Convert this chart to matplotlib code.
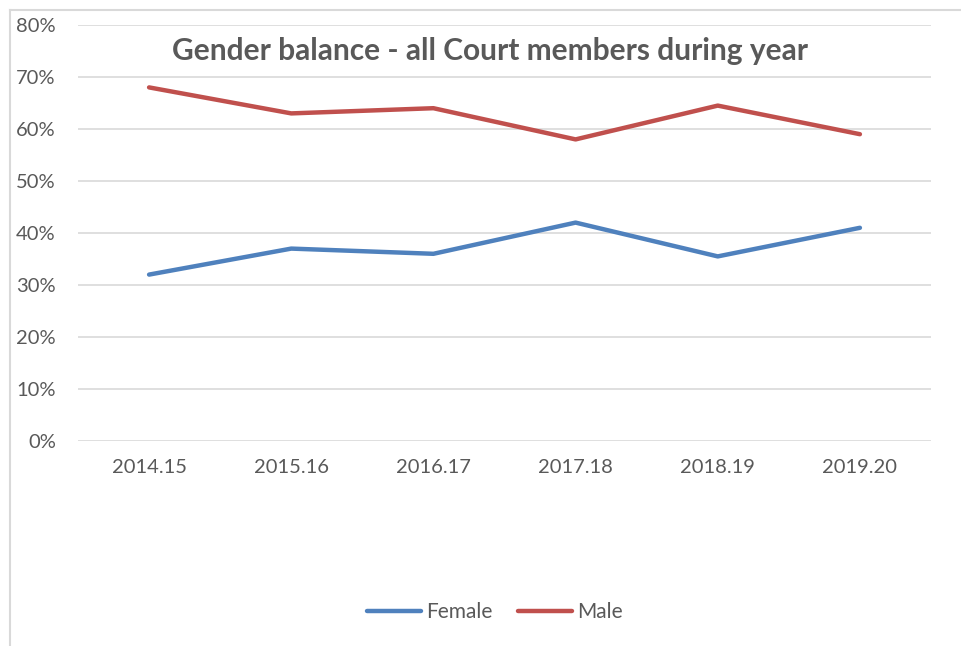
import matplotlib
matplotlib.use("Agg")
import matplotlib.pyplot as plt
from matplotlib.lines import Line2D
from matplotlib.ticker import FuncFormatter

years = ["2014.15", "2015.16", "2016.17", "2017.18", "2018.19", "2019.20"]
female = [0.32, 0.37, 0.36, 0.42, 0.355, 0.41]
male = [0.68, 0.63, 0.64, 0.58, 0.645, 0.59]
yticks = [0, 0.1, 0.2, 0.3, 0.4, 0.5, 0.6, 0.7, 0.8]

W, H = 962, 646
plt.rcParams['font.family'] = ['Lato', 'DejaVu Sans']
fig = plt.figure(figsize=(W/100, H/100), dpi=100)
ax = fig.add_axes([78/W, 1-441/H, (931-78)/W, (441-25)/H])

gray = "#595959"
x = list(range(len(years)))
ax.plot(x, female, color="#4F81BD", lw=3.2, solid_capstyle="round", label="Female")
ax.plot(x, male, color="#C0504D", lw=3.2, solid_capstyle="round", label="Male")

ax.set_xlim(-0.5, len(years)-0.5)
ax.set_ylim(0, 0.8)
ax.set_yticks(yticks)
ax.yaxis.set_major_formatter(FuncFormatter(lambda v, p: f"{v*100:.0f}%"))
ax.set_xticks(x)
ax.set_xticklabels(years)
ax.grid(axis="y", color="#D9D9D9", lw=1.2)
ax.set_axisbelow(True)
for s in ax.spines.values():
    s.set_visible(False)
ax.tick_params(axis="both", length=0, colors=gray, labelsize=14.5)
ax.tick_params(axis="y", pad=16)
ax.tick_params(axis="x", pad=13)

fig.text(490/W, 1-51/H, "Gender balance - all Court members during year",
         ha="center", va="center", fontsize=21.5, fontweight="bold", color=gray)

leg = fig.legend(loc="center", bbox_to_anchor=(495/W, 1-612/H), ncol=2, frameon=False,
                 fontsize=15, handlelength=2.6, handletextpad=0.25, columnspacing=1.2,
                 labelcolor=gray)

fig.add_artist(Line2D([10/W, 10/W], [0, 1-10/H], color="#D9D9D9", lw=1.5))
fig.add_artist(Line2D([10/W, 1], [1-10/H, 1-10/H], color="#D9D9D9", lw=1.5))

fig.savefig("out.png", dpi=100)
